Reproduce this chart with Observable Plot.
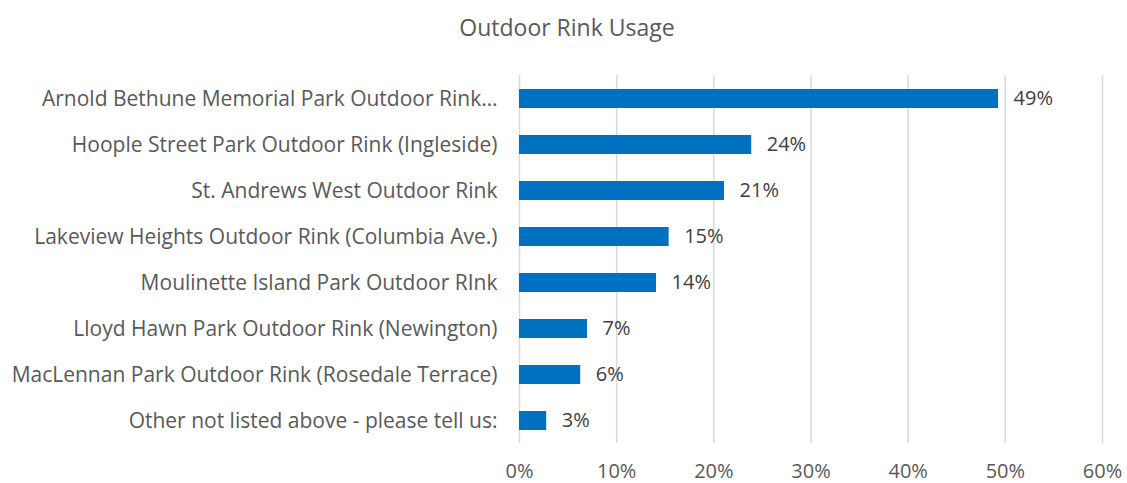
<!DOCTYPE html>
<html>
<head>
<meta charset="utf-8">
<script src="https://cdn.jsdelivr.net/npm/d3@7"></script>
<script src="https://cdn.jsdelivr.net/npm/@observablehq/plot@0.6"></script>
<style>
  html, body { margin: 0; padding: 0; background: #fff; }
  #title { height: 55px; line-height: 55px; text-align: center; font-family: "Open Sans", sans-serif; font-size: 23px; color: #595959; width: 1134px; }
</style>
</head>
<body>
<div id="title">Outdoor Rink Usage</div>
<div id="chart"></div>
<script>
const categories = [
  "Arnold Bethune Memorial Park Outdoor Rink…",
  "Hoople Street Park Outdoor Rink (Ingleside)",
  "St. Andrews West Outdoor Rink",
  "Lakeview Heights Outdoor Rink (Columbia Ave.)",
  "Moulinette Island Park Outdoor RInk",
  "Lloyd Hawn Park Outdoor Rink (Newington)",
  "MacLennan Park Outdoor Rink (Rosedale Terrace)",
  "Other not listed above - please tell us:"
];
const values = [0.493, 0.239, 0.211, 0.154, 0.141, 0.070, 0.063, 0.028];
const valueLabels = ["49%", "24%", "21%", "15%", "14%", "7%", "6%", "3%"];
const xTicks = [0, 0.1, 0.2, 0.3, 0.4, 0.5, 0.6];
const xTickLabels = ["0%", "10%", "20%", "30%", "40%", "50%", "60%"];

const data = categories.map((name, i) => ({name, value: values[i], label: valueLabels[i]}));

const chart = Plot.plot({
  width: 1127,
  height: 428,
  marginLeft: 519,
  marginRight: 25,
  marginTop: 20,
  marginBottom: 40,
  style: {fontFamily: '"Open Sans", sans-serif', fontSize: "20px", color: "#595959", background: "#fff"},
  x: {domain: [0, 0.6]},
  y: {domain: categories, paddingInner: 0.59, paddingOuter: 0.295},
  marks: [
    Plot.gridX(xTicks, {stroke: "#d9d9d9", strokeOpacity: 1, strokeWidth: 1.5}),
    Plot.barX(data, {x: "value", y: "name", fill: "#0070c0"}),
    Plot.text(data, {x: "value", y: "name", text: "label", dx: 15, textAnchor: "start", fill: "#404040", fontSize: 20}),
    Plot.axisX({ticks: xTicks, tickFormat: (d, i) => xTickLabels[i], tickSize: 0, tickPadding: 20, label: null, fill: "#595959"}),
    Plot.axisY({tickSize: 0, tickPadding: 22, label: null, fill: "#595959", fontSize: 21})
  ]
});
document.getElementById("chart").appendChild(chart);
</script>
</body>
</html>
